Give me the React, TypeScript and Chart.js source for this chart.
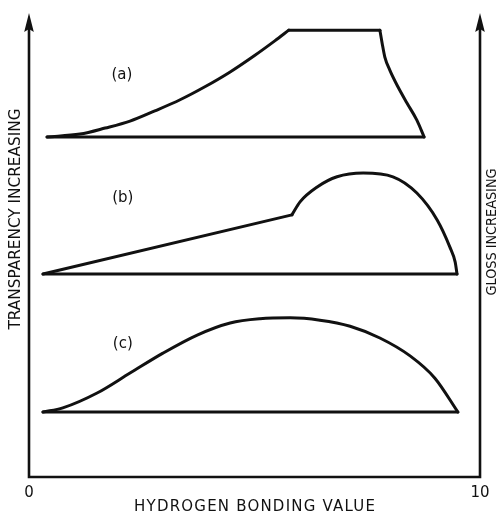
import React, { useEffect, useRef } from "react";
import { Chart, registerables } from "chart.js";

Chart.register(...registerables);

// ---- Data (x: hydrogen bonding value 0..10, y: arbitrary height 0..100) ----
// Curve (a)
const aRiseX = [0.4, 1.13, 1.69, 2.24, 2.79, 3.35, 3.9, 4.46, 5.01, 5.45, 5.76];
const aRiseY = [73.3, 73.9, 75.2, 76.7, 78.9, 81.3, 84.1, 87.3, 90.9, 94.0, 96.3];
const aTopX = [5.76, 7.78];
const aTopY = [96.3, 96.3];
const aDropX = [7.78, 7.83, 7.89, 8.0, 8.18, 8.38, 8.6, 8.76];
const aDropY = [96.3, 93.5, 90.5, 87.7, 84.1, 80.6, 76.9, 73.3];
const aBaseX = [0.4, 8.76];
const aBaseY = [73.3, 73.3];

// Curve (b)
const bLineX = [0.31, 5.83];
const bLineY = [43.75, 56.5];
const bBumpX = [5.83, 6.01, 6.39, 6.83, 7.41, 8.07, 8.6, 9.05, 9.33, 9.45, 9.49];
const bBumpY = [56.5, 59.3, 62.5, 64.7, 65.5, 64.7, 61.2, 55.4, 49.6, 46.3, 43.75];
const bBaseX = [0.31, 9.49];
const bBaseY = [43.75, 43.75];

// Curve (c)
const cCurveX = [0.31, 0.75, 1.51, 2.24, 2.97, 3.73, 4.46, 5.12, 5.79, 6.45, 7.12, 7.78, 8.45, 9.0, 9.51];
const cCurveY = [14.0, 14.9, 18.1, 22.4, 26.7, 30.6, 33.2, 34.1, 34.3, 33.8, 32.5, 29.96, 26.1, 21.3, 14.0];
const cBaseX = [0.31, 9.51];
const cBaseY = [14.0, 14.0];

// Curve labels
const curveLabels = ["(a)", "(b)", "(c)"];
const curveLabelX = [2.06, 2.08, 2.08];
const curveLabelY = [86.6, 60.2, 28.6];

// Axis texts
const xTickLabels = ["0", "10"];
const xTickValues = [0, 10];
const xTitle = "HYDROGEN BONDING VALUE";
const leftTitle = "TRANSPARENCY INCREASING";
const rightTitle = "GLOSS INCREASING";

const INK = "#111111";
const FONT = '"DejaVu Sans", sans-serif';

type P = { x: number; y: number };
const pts = (xs: number[], ys: number[]): P[] => xs.map((x, i) => ({ x, y: ys[i] }));

const seg = (xs: number[], ys: number[], curved: boolean) => ({
  data: pts(xs, ys),
  borderColor: INK,
  borderWidth: 3,
  pointRadius: 0,
  fill: false,
  tension: curved ? 0.4 : 0,
  cubicInterpolationMode: curved ? ("monotone" as const) : ("default" as const),
  borderCapStyle: "round" as const,
  borderJoinStyle: "round" as const,
  clip: false as any,
});

const decor = {
  id: "decor",
  afterDraw(chart: any) {
    const { ctx, scales } = chart;
    const x = scales.x;
    const y = scales.y;
    const x0 = x.getPixelForValue(0);
    const x1 = x.getPixelForValue(10);
    const yb = y.getPixelForValue(0);
    const yt = y.getPixelForValue(100);
    ctx.save();
    ctx.strokeStyle = INK;
    ctx.fillStyle = INK;
    ctx.lineWidth = 2.6;
    ctx.lineJoin = "miter";
    ctx.beginPath();
    ctx.moveTo(x0, yt + 12);
    ctx.lineTo(x0, yb);
    ctx.lineTo(x1, yb);
    ctx.lineTo(x1, yt + 12);
    ctx.stroke();
    for (const ax of [x0, x1]) {
      ctx.beginPath();
      ctx.moveTo(ax, yt);
      ctx.lineTo(ax + 4.8, yt + 19);
      ctx.lineTo(ax, yt + 16);
      ctx.lineTo(ax - 4.8, yt + 19);
      ctx.closePath();
      ctx.fill();
    }

    // curve labels
    ctx.font = `15px ${FONT}`;
    ctx.textAlign = "center";
    ctx.textBaseline = "middle";
    curveLabels.forEach((t, i) => {
      ctx.fillText(t, x.getPixelForValue(curveLabelX[i]), y.getPixelForValue(curveLabelY[i]));
    });

    // tick labels
    ctx.textBaseline = "alphabetic";
    xTickLabels.forEach((t, i) => {
      ctx.fillText(t, x.getPixelForValue(xTickValues[i]), yb + 20);
    });

    // x title
    (ctx as any).letterSpacing = "1.2px";
    ctx.fillText(xTitle, (x0 + x1) / 2 + 0.6, yb + 34);
    (ctx as any).letterSpacing = "0px";

    // left title
    ctx.save();
    ctx.translate(x0 - 13, 219);
    ctx.rotate(-Math.PI / 2);
    ctx.font = `16px ${FONT}`;
    ctx.textBaseline = "middle";
    ctx.fillText(leftTitle, 0, 0, 221);
    ctx.restore();

    // right title
    ctx.save();
    ctx.translate(x1 + 12, 232);
    ctx.rotate(-Math.PI / 2);
    ctx.font = `14px ${FONT}`;
    ctx.textBaseline = "middle";
    ctx.fillText(rightTitle, 0, 0, 127);
    ctx.restore();

    ctx.restore();
  },
};

export default function App() {
  const ref = useRef<HTMLCanvasElement | null>(null);
  useEffect(() => {
    if (!ref.current) return;
    const chart = new Chart(ref.current, {
      type: "line",
      data: {
        datasets: [
          seg(aRiseX, aRiseY, true),
          seg(aTopX, aTopY, false),
          seg(aDropX, aDropY, true),
          seg(aBaseX, aBaseY, false),
          seg(bLineX, bLineY, false),
          seg(bBumpX, bBumpY, true),
          seg(bBaseX, bBaseY, false),
          seg(cCurveX, cCurveY, true),
          seg(cBaseX, cBaseY, false),
        ] as any,
      },
      options: {
        responsive: false,
        animation: false,
        layout: { padding: { left: 29, right: 21, top: 13, bottom: 35 } },
        plugins: { legend: { display: false }, tooltip: { enabled: false } },
        events: [],
        scales: {
          x: { type: "linear", min: 0, max: 10, display: false },
          y: { type: "linear", min: 0, max: 100, display: false },
        },
      },
      plugins: [decor],
    });
    return () => chart.destroy();
  }, []);
  return (
    <div style={{ position: "absolute", left: 0, top: 0, width: 501, height: 512, background: "#fff" }}>
      <canvas ref={ref} width={501} height={512} />
    </div>
  );
}
